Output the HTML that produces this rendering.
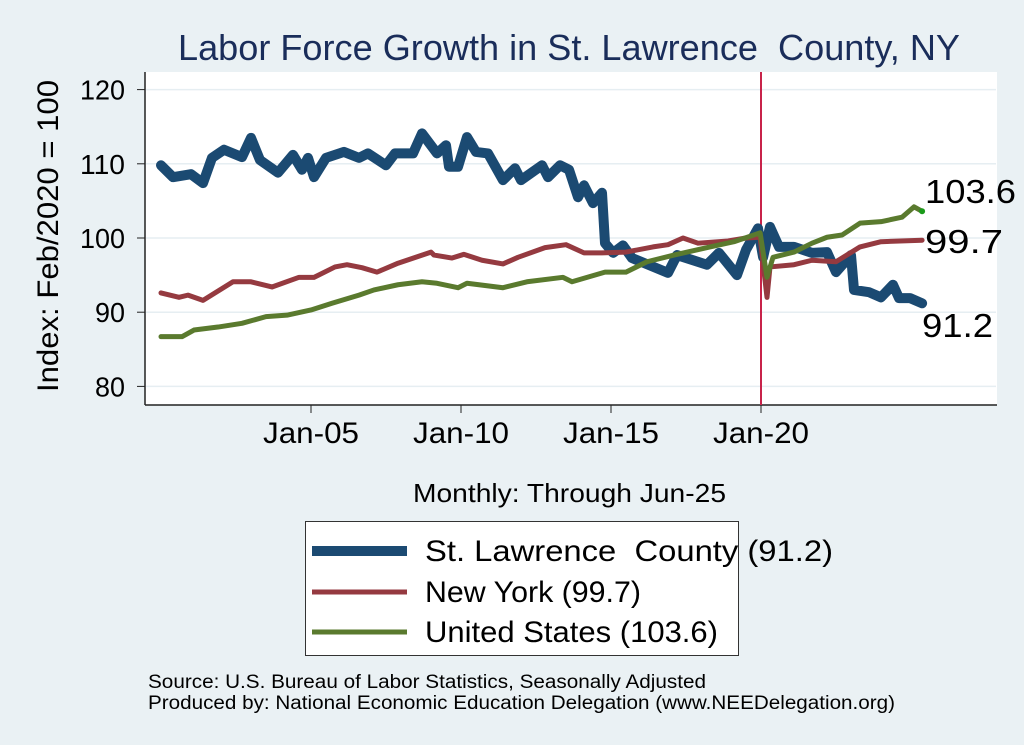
<!DOCTYPE html>
<html><head><meta charset="utf-8"><style>
body{margin:0;background:#eaf1f4}
svg{display:block;font-family:"Liberation Sans",Arial,sans-serif}
</style></head><body>
<svg id="c" width="1024" height="745" viewBox="0 0 1024 745">
<rect x="0" y="0" width="1024" height="745" fill="#eaf1f4"/>
<rect x="145" y="72" width="852" height="333" fill="#fff"/>
<text x="178" y="60" font-size="36" fill="#1a2d5a" textLength="782" lengthAdjust="spacingAndGlyphs">Labor Force Growth in St. Lawrence&#160; County, NY</text>
<g id="grid"></g>
<line x1="145" x2="145" y1="72" y2="405" stroke="#222" stroke-width="1.5"/>
<line x1="145" x2="997" y1="405" y2="405" stroke="#222" stroke-width="1.5"/>
<line x1="761" x2="761" y1="72" y2="405" stroke="#c8234a" stroke-width="2"/>
<g id="series"></g>
<g id="axes"></g>
<text transform="translate(58,236) rotate(-90)" text-anchor="middle" font-size="30" textLength="312" lengthAdjust="spacingAndGlyphs" fill="#000">Index: Feb/2020 = 100</text>
<text x="413" y="502" font-size="26" textLength="313" lengthAdjust="spacingAndGlyphs" fill="#000">Monthly: Through Jun-25</text>
<g>
<rect x="305.5" y="521.5" width="433" height="134" fill="#fff" stroke="#333"/>
<line x1="312" x2="407" y1="551" y2="551" stroke="#1b4a72" stroke-width="10"/>
<text x="425" y="561" font-size="30" textLength="408" lengthAdjust="spacingAndGlyphs">St. Lawrence&#160; County (91.2)</text>
<line x1="312" x2="407" y1="592" y2="592" stroke="#953a40" stroke-width="5"/>
<text x="425" y="602" font-size="30" textLength="216" lengthAdjust="spacingAndGlyphs">New York (99.7)</text>
<line x1="312" x2="407" y1="632" y2="632" stroke="#5a7a2e" stroke-width="5"/>
<text x="425" y="642" font-size="30" textLength="293" lengthAdjust="spacingAndGlyphs">United States (103.6)</text>
</g>
<text x="148" y="688" font-size="19" textLength="558" lengthAdjust="spacingAndGlyphs">Source: U.S. Bureau of Labor Statistics, Seasonally Adjusted</text>
<text x="148" y="709" font-size="19" textLength="747" lengthAdjust="spacingAndGlyphs">Produced by: National Economic Education Delegation (www.NEEDelegation.org)</text>
</svg>
<script>
const slDates=[2000.0,2000.4,2001.0,2001.4,2001.7,2002.1,2002.7,2003.0,2003.3,2003.9,2004.4,2004.7,2004.9,2005.1,2005.5,2006.1,2006.6,2006.9,2007.5,2007.8,2008.4,2008.7,2009.2,2009.5,2009.6,2009.9,2010.2,2010.5,2010.9,2011.4,2011.8,2012.0,2012.7,2012.9,2013.3,2013.6,2013.9,2014.1,2014.4,2014.7,2014.8,2015.07,2015.4,2015.7,2016.9,2017.2,2018.2,2018.6,2019.2,2019.5,2019.9,2020.07,2020.3,2020.6,2021.1,2021.7,2022.2,2022.5,2023.0,2023.1,2023.6,2024.0,2024.4,2024.6,2024.97,2025.37];
const slValues=[109.8,108.2,108.6,107.4,110.8,111.9,110.9,113.5,110.5,108.8,111.2,109.2,110.8,108.2,110.8,111.6,110.8,111.4,109.8,111.4,111.4,114.1,111.4,112.5,109.6,109.6,113.6,111.6,111.4,107.8,109.4,107.8,109.8,108.2,109.8,109.2,105.5,107.1,104.7,106.1,99.3,98,99,97.3,95.3,97.7,96.4,98,95,98.4,101.3,97.4,101.5,98.8,98.8,98,98.1,95.4,97.7,93,92.7,92,93.7,91.9,91.9,91.2];
const nyDates=[2000.0,2000.6,2000.9,2001.4,2002.4,2003.0,2003.7,2004.6,2005.1,2005.8,2006.2,2006.7,2007.2,2007.9,2009.0,2009.1,2009.7,2010.1,2010.7,2011.4,2011.9,2012.8,2013.5,2014.1,2014.7,2015.5,2016.4,2016.9,2017.4,2017.9,2018.9,2019.5,2019.97,2020.2,2020.3,2021.1,2021.7,2022.5,2023.3,2024.0,2025.37];
const nyValues=[92.6,92,92.3,91.6,94.1,94.1,93.4,94.7,94.7,96.1,96.4,96,95.4,96.6,98.1,97.7,97.3,97.8,97,96.5,97.4,98.7,99.1,98,98,98.1,98.8,99.1,100,99.3,99.6,100,100.1,92,96.1,96.4,97,96.8,98.8,99.5,99.7];
const usDates=[2000.0,2000.7,2001.1,2001.9,2002.7,2003.5,2004.2,2005.0,2005.7,2006.6,2007.1,2007.9,2008.7,2009.2,2009.9,2010.2,2010.6,2011.4,2012.2,2013.4,2013.7,2014.8,2015.5,2016.2,2017.1,2018.3,2019.1,2019.97,2020.2,2020.4,2021.1,2021.7,2022.2,2022.7,2023.3,2024.0,2024.7,2025.1,2025.37];
const usValues=[86.7,86.7,87.6,88,88.5,89.4,89.6,90.3,91.2,92.3,93,93.7,94.1,93.9,93.3,93.9,93.7,93.3,94.1,94.7,94.1,95.4,95.4,96.8,97.7,98.8,99.5,100.7,94.7,97.4,98.1,99.3,100.1,100.4,102,102.2,102.8,104.2,103.6];
const yTicks=[80,90,100,110,120];
const xTicks=[2005,2010,2015,2020];
const xTickLabels=["Jan-05","Jan-10","Jan-15","Jan-20"];
const endLabels=["91.2","99.7","103.6"];

const NS="http://www.w3.org/2000/svg";
const X=d=>161+(d-2000)*30;
const Y=v=>238-(v-100)*7.42;
function mk(tag,attrs,parent){const e=document.createElementNS(NS,tag);for(const k in attrs)e.setAttribute(k,attrs[k]);parent.appendChild(e);return e;}
const grid=document.getElementById('grid'),axes=document.getElementById('axes'),series=document.getElementById('series');
yTicks.forEach(v=>{
  const g=mk('line',{x1:146,x2:996,y1:Y(v),y2:Y(v),stroke:'#e6eef2','stroke-width':1.5},grid);
  
  
  const t=mk('line',{x1:137,x2:145,y1:Y(v),y2:Y(v),stroke:'#222'},axes);
  
  
  const s=String(v);
  const l=mk('text',{x:125,y:Y(v)+10,'text-anchor':'end','font-size':28,textLength:s.length*15,lengthAdjust:'spacingAndGlyphs'},axes);
  l.textContent=s;
  
  
});
xTicks.forEach((d,i)=>{
  const t=mk('line',{x1:X(d),x2:X(d),y1:405,y2:413,stroke:'#222'},axes);
  
  
  const l=mk('text',{x:X(d)-48,y:443,'font-size':30,textLength:96,lengthAdjust:'spacingAndGlyphs'},axes);
  l.textContent=xTickLabels[i];
  
  
});
function line(ds,vs,color,w,name){
  const p=mk('polyline',{points:ds.map((d,i)=>X(d)+','+Y(vs[i])).join(' '),fill:'none',stroke:color,'stroke-width':w,'stroke-linejoin':'round','stroke-linecap':'round'},series);
  
  
}
line(slDates,slValues,'#1b4a72',10,'st-lawrence-line');
line(nyDates,nyValues,'#953a40',5,'new-york-line');
line(usDates,usValues,'#5a7a2e',5,'united-states-line');
const dot=mk('circle',{cx:X(usDates[usDates.length-1]),cy:Y(usValues[usValues.length-1]),r:3,fill:'#1a9a1a'},series);


const endY=[337,253,203];
const endX=[922,925,925];
const endW=[71,78,91];
endLabels.forEach((s,i)=>{
  const l=mk('text',{x:endX[i],y:endY[i],'font-size':33,textLength:endW[i],lengthAdjust:'spacingAndGlyphs'},series);
  l.textContent=s;
  
  
});
</script>
</body></html>
